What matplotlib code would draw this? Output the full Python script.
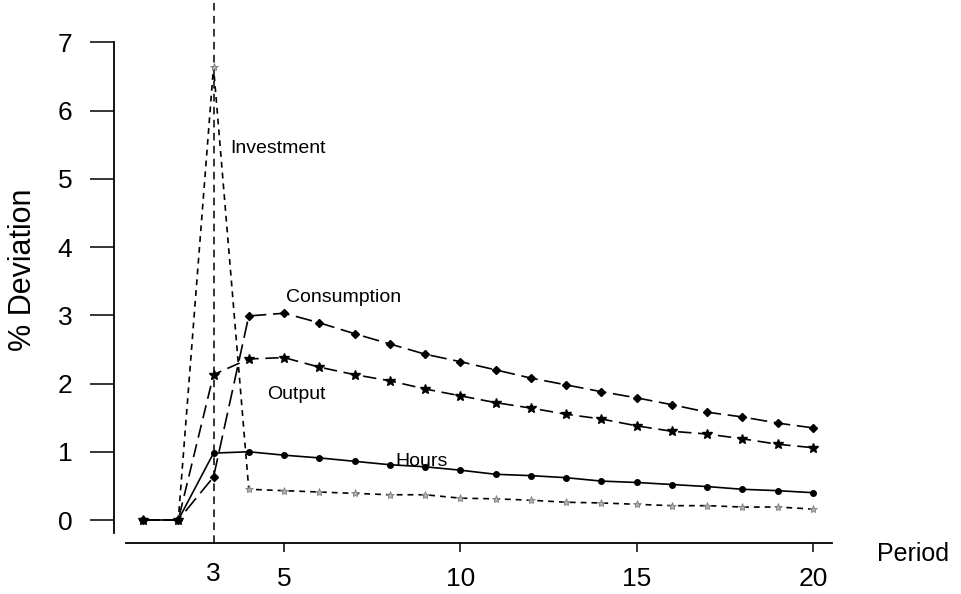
import matplotlib
matplotlib.use("Agg")
import matplotlib.pyplot as plt

plt.rcParams['font.family'] = ['Liberation Sans', 'DejaVu Sans']

periods = list(range(1, 21))
consumption = [0, 0, 0.63, 2.99, 3.03, 2.89, 2.73, 2.58, 2.43, 2.32, 2.20, 2.08, 1.98,
               1.88, 1.79, 1.69, 1.58, 1.51, 1.42, 1.35]
output = [0, 0, 2.13, 2.36, 2.38, 2.24, 2.13, 2.04, 1.92, 1.82, 1.72, 1.64, 1.55,
          1.48, 1.38, 1.30, 1.26, 1.19, 1.11, 1.06]
hours = [0, 0, 0.98, 1.00, 0.95, 0.91, 0.86, 0.81, 0.78, 0.73, 0.67, 0.65, 0.62,
         0.57, 0.55, 0.52, 0.49, 0.45, 0.43, 0.40]
investment = [0, 0, 6.64, 0.45, 0.43, 0.41, 0.39, 0.37, 0.37, 0.32, 0.31, 0.29, 0.26,
              0.25, 0.23, 0.21, 0.21, 0.19, 0.19, 0.16]
shock_period = 3
yticks = [0, 1, 2, 3, 4, 5, 6, 7]
xticks = [5, 10, 15, 20]

W, H = 961, 594
fig = plt.figure(figsize=(W / 100, H / 100), dpi=100)
ax = fig.add_axes([114 / W, (H - 543) / H, 726 / W, 543 / H])

px_per_x = 35.26
px_per_y = 68.24
ax.set_xlim(1 + (114 - 143) / px_per_x, 1 + (840 - 143) / px_per_x)
ax.set_ylim((520 - 543) / px_per_y, 520 / px_per_y)

lw = 1.2
ax.axvline(shock_period, color='black', lw=1.1, dashes=(5, 3.5), zorder=1)

ax.plot(periods, investment, color='black', lw=lw, dashes=(3.5, 3),
        marker='*', markersize=6, markerfacecolor='#b0b0b0', markeredgecolor='#808080',
        markeredgewidth=0.6, zorder=2)
ax.plot(periods, output, color='black', lw=lw, dashes=(8, 4),
        marker='*', markersize=7, markerfacecolor='black', markeredgecolor='black', zorder=3)
ax.plot(periods, consumption, color='black', lw=lw, dashes=(10, 4),
        marker='D', markersize=4, markerfacecolor='black', markeredgecolor='black', zorder=4)
ax.plot(periods, hours, color='black', lw=lw, linestyle='-',
        marker='o', markersize=4, markerfacecolor='black', markeredgecolor='black', zorder=5)

lab_fs = 14
ax.text(1 + 87 / px_per_x, (520 - 153) / px_per_y, 'Investment', fontsize=lab_fs,
        ha='left', va='baseline')
ax.text(1 + 143 / px_per_x, (520 - 302) / px_per_y, 'Consumption', fontsize=lab_fs,
        ha='left', va='baseline')
ax.text(1 + 124 / px_per_x, (520 - 399) / px_per_y, 'Output', fontsize=lab_fs,
        ha='left', va='baseline')
ax.text(1 + 252 / px_per_x, (520 - 466) / px_per_y, 'Hours', fontsize=lab_fs,
        ha='left', va='baseline')

for s in ['top', 'right']:
    ax.spines[s].set_visible(False)
ax.spines['left'].set_linewidth(1.3)
ax.spines['bottom'].set_linewidth(1.3)
ax.spines['left'].set_bounds((520 - 533) / px_per_y, 7)
ax.spines['bottom'].set_bounds(1 + (126 - 143) / px_per_x, 1 + (832 - 143) / px_per_x)

ax.set_yticks(yticks)
ax.set_yticklabels([str(v) for v in yticks])
ax.tick_params(axis='y', length=17, width=1.1, pad=13, labelsize=19)

ax.set_xticks(xticks)
ax.set_xticklabels([str(v) for v in xticks])
ax.tick_params(axis='x', which='major', length=6.5, width=1.1, pad=11, labelsize=19)
ax.set_xticks([shock_period], minor=True)
ax.set_xticklabels([str(shock_period)], minor=True)
ax.tick_params(axis='x', which='minor', length=0, pad=13.5, labelsize=19)

fig.text(23 / W, (H - 270) / H, '% Deviation', rotation=90, fontsize=22,
         ha='center', va='center')
fig.text(877 / W, (H - 561) / H, 'Period', fontsize=18, ha='left', va='baseline')

fig.savefig('out.png', dpi=100)
